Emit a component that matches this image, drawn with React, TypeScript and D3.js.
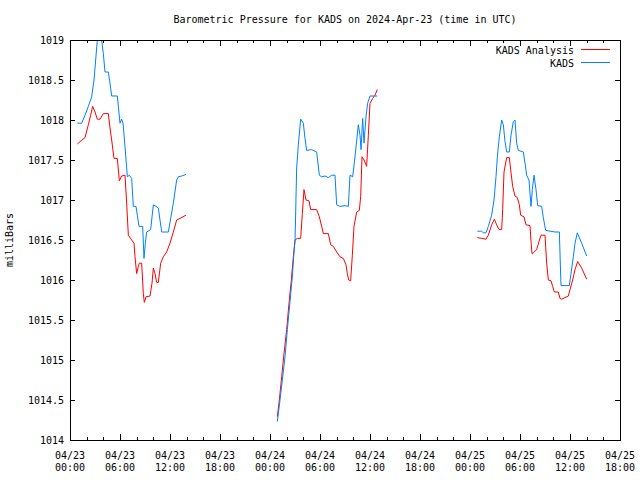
import React from "react";
import * as d3 from "d3";

// Hours since 2024-04-23 00:00 UTC; NaN splits gaps
const kadsHours = [
  0.88, 1.4, 1.8, 2.2, 2.6, 2.88, 3.08, 3.28, 3.5, 3.8, 4.0, 4.2, 4.6, 4.8, 5.0, 5.68, 6.0, 6.2, 6.36, 6.6, 6.88, 7.12, 7.4, 7.6, 7.92, 8.08, 8.28, 8.72, 8.88, 9.04, 9.2, 9.68, 10.0, 10.32, 10.6, 11.0, 11.8, 12.4, 12.8, 13.0, 13.4, 13.92,
  NaN,
  24.88, 25.2, 25.48, 25.8, 26.08, 26.4, 26.68, 26.88, 27.0, 27.06, 27.2, 27.4, 27.68, 28.0, 28.2, 28.4, 29.0, 29.6, 29.92, 30.2, 30.6, 31.0, 31.4, 31.8, 32.0, 32.4, 33.0, 33.4, 33.6, 33.92, 34.2, 34.6, 34.8, 34.92, 35.12, 35.28, 35.52, 35.72, 36.0, 36.88,
  NaN,
  48.88, 49.4, 49.6, 49.92, 50.2, 50.6, 50.88, 51.12, 51.28, 51.52, 51.8, 52.0, 52.2, 52.4, 52.72, 52.92, 53.2, 53.4, 53.6, 53.8, 54.4, 54.6, 54.8, 55.08, 55.32, 55.48, 55.68, 55.92, 56.12, 56.6, 56.8, 57.08, 58.2, 58.72, 58.92, 59.92, 60.4, 60.6, 60.88, 61.4, 62.0,
];
const kadsValues = [
  1017.96, 1017.96, 1018.06, 1018.17, 1018.29, 1018.5, 1018.75, 1019.0, 1019.3, 1019.0, 1018.83, 1018.6, 1018.6, 1018.46, 1018.3, 1018.3, 1017.96, 1018.01, 1017.96, 1017.67, 1017.29, 1017.31, 1017.27, 1016.92, 1016.92, 1016.81, 1016.67, 1016.67, 1016.27, 1016.46, 1016.6, 1016.63, 1016.94, 1016.92, 1016.9, 1016.6, 1016.6, 1016.96, 1017.25, 1017.29, 1017.3, 1017.32,
  NaN,
  1014.23, 1014.5, 1014.75, 1015.04, 1015.38, 1015.73, 1016.04, 1016.35, 1016.48, 1016.75, 1017.4, 1017.69, 1018.01, 1017.96, 1017.77, 1017.62, 1017.63, 1017.6, 1017.31, 1017.29, 1017.3, 1017.28, 1017.31, 1017.31, 1016.94, 1016.92, 1016.93, 1016.92, 1017.31, 1017.29, 1017.54, 1017.94, 1017.81, 1017.63, 1018.02, 1017.71, 1018.04, 1018.21, 1018.3, 1018.3,
  NaN,
  1016.61, 1016.61, 1016.59, 1016.59, 1016.67, 1016.81, 1017.0, 1017.29, 1017.54, 1017.79, 1018.0, 1017.94, 1017.73, 1017.6, 1017.6, 1017.81, 1017.98, 1018.0, 1017.71, 1017.62, 1017.6, 1017.46, 1017.31, 1017.25, 1016.92, 1017.13, 1017.31, 1017.13, 1016.93, 1016.92, 1016.78, 1016.62, 1016.6, 1016.6, 1015.93, 1015.93, 1016.29, 1016.46, 1016.59, 1016.46, 1016.3,
];

const analysisHours = [
  0.88, 1.2, 1.8, 2.2, 2.48, 2.72, 3.0, 3.28, 3.6, 4.0, 4.6, 4.8, 5.0, 5.28, 5.68, 5.92, 6.2, 6.6, 6.8, 7.0, 7.4, 7.68, 7.8, 8.0, 8.2, 8.32, 8.6, 8.8, 8.92, 9.12, 9.6, 9.84, 10.0, 10.2, 10.4, 10.6, 10.88, 11.2, 11.6, 12.0, 12.4, 12.8, 13.2, 13.92,
  NaN,
  24.88, 25.12, 25.4, 25.68, 26.0, 26.28, 26.56, 26.8, 27.0, 27.28, 27.68, 27.88, 28.08, 28.32, 28.68, 28.88, 29.6, 29.92, 30.2, 30.4, 31.0, 31.28, 31.6, 32.0, 32.4, 32.8, 33.12, 33.28, 33.44, 33.68, 33.88, 34.08, 34.4, 34.72, 34.88, 35.04, 35.28, 35.6, 35.8, 36.0, 36.32, 36.6, 36.88,
  NaN,
  48.88, 49.4, 49.92, 50.2, 50.6, 50.92, 51.2, 51.48, 51.8, 51.92, 52.08, 52.4, 52.72, 52.88, 53.12, 53.4, 53.68, 53.92, 54.08, 54.48, 54.72, 55.2, 55.32, 55.44, 55.6, 56.0, 56.28, 56.52, 57.0, 57.08, 57.2, 57.4, 57.72, 57.92, 58.12, 58.6, 58.8, 59.0, 59.4, 59.8, 60.0, 60.32, 60.6, 60.92, 61.4, 62.0,
];
const analysisValues = [
  1017.7, 1017.73, 1017.78, 1017.94, 1018.06, 1018.17, 1018.1, 1018.01, 1018.01, 1018.08, 1018.08, 1017.9, 1017.75, 1017.52, 1017.52, 1017.24, 1017.3, 1017.31, 1016.96, 1016.56, 1016.5, 1016.46, 1016.29, 1016.08, 1016.17, 1016.21, 1016.21, 1015.83, 1015.72, 1015.79, 1015.8, 1015.96, 1016.15, 1016.08, 1015.97, 1015.97, 1016.21, 1016.29, 1016.35, 1016.46, 1016.6, 1016.75, 1016.77, 1016.81,
  NaN,
  1014.29, 1014.5, 1014.79, 1015.08, 1015.38, 1015.71, 1016.0, 1016.29, 1016.5, 1016.52, 1016.52, 1016.83, 1017.13, 1017.0, 1016.99, 1016.88, 1016.88, 1016.79, 1016.67, 1016.58, 1016.58, 1016.44, 1016.42, 1016.35, 1016.29, 1016.27, 1016.19, 1016.08, 1016.0, 1015.99, 1016.31, 1016.67, 1016.85, 1016.87, 1017.04, 1017.54, 1017.5, 1017.42, 1017.81, 1018.21, 1018.27, 1018.31, 1018.38,
  NaN,
  1016.53, 1016.52, 1016.51, 1016.56, 1016.69, 1016.76, 1016.69, 1016.63, 1016.63, 1016.88, 1017.35, 1017.53, 1017.53, 1017.38, 1017.17, 1017.05, 1017.03, 1016.94, 1016.81, 1016.79, 1016.69, 1016.68, 1016.48, 1016.33, 1016.34, 1016.38, 1016.48, 1016.56, 1016.56, 1016.42, 1016.21, 1016.0, 1015.99, 1015.92, 1015.85, 1015.85, 1015.77, 1015.76, 1015.78, 1015.8, 1015.88, 1016.0, 1016.13, 1016.23, 1016.15, 1016.01,
];

const yTicks = [1014, 1014.5, 1015, 1015.5, 1016, 1016.5, 1017, 1017.5, 1018, 1018.5, 1019];
const yTickLabels = ["1014", "1014.5", "1015", "1015.5", "1016", "1016.5", "1017", "1017.5", "1018", "1018.5", "1019"];
const xTickHours = [0, 6, 12, 18, 24, 30, 36, 42, 48, 54, 60, 66];
const xTickDates = ["04/23", "04/23", "04/23", "04/23", "04/24", "04/24", "04/24", "04/24", "04/25", "04/25", "04/25", "04/25"];
const xTickTimes = ["00:00", "06:00", "12:00", "18:00", "00:00", "06:00", "12:00", "18:00", "00:00", "06:00", "12:00", "18:00"];
const seriesNames = ["KADS Analysis", "KADS"];
const seriesColors = ["#ff0000", "#0080ff"];

const W = 640, H = 480;
const L = 70, R = 620, T = 40, B = 440;
const FONT = "'DejaVu Sans Mono', monospace";

export default function App() {
  const x = d3.scaleLinear().domain([0, 66]).range([L, R]);
  const y = d3.scaleLinear().domain([1014, 1019]).range([B, T]);
  const line = d3
    .line<[number, number]>()
    .defined((d) => !isNaN(d[0]) && !isNaN(d[1]))
    .x((d) => x(d[0]))
    .y((d) => y(d[1]));
  const kads: [number, number][] = kadsHours.map((h, i) => [h, kadsValues[i]]);
  const anal: [number, number][] = analysisHours.map((h, i) => [h, analysisValues[i]]);
  const minor = d3.range(0, 67, 2);

  return (
    <svg width={W} height={H} style={{ display: "block", position: "absolute", left: 0, top: 0, background: "#fff" }}>
      <defs>
        <clipPath id="plotclip">
          <rect x={L} y={T} width={R - L} height={B - T} />
        </clipPath>
      </defs>
      <rect x={0} y={0} width={W} height={H} fill="#fff" />
      <text x={345} y={23} textAnchor="middle" fontFamily={FONT} fontSize={10} fill="#000">
        Barometric Pressure for KADS on 2024-Apr-23 (time in UTC)
      </text>
      {/* y ticks */}
      {yTicks.map((v, i) => (
        <g key={"y" + i}>
          <line x1={L} x2={L + 5} y1={Math.round(y(v)) + 0.5} y2={Math.round(y(v)) + 0.5} stroke="#000" />
          <line x1={R - 5} x2={R} y1={Math.round(y(v)) + 0.5} y2={Math.round(y(v)) + 0.5} stroke="#000" />
          <text x={64} y={y(v) + 3.5} textAnchor="end" fontFamily={FONT} fontSize={10} fill="#000">
            {yTickLabels[i]}
          </text>
        </g>
      ))}
      {/* x ticks */}
      {minor.map((h) => {
        const major = h % 6 === 0;
        const len = major ? 6 : 3;
        const xp = Math.round(x(h)) + 0.5;
        return (
          <g key={"m" + h}>
            <line x1={xp} x2={xp} y1={B} y2={B - len} stroke="#000" />
            <line x1={xp} x2={xp} y1={T} y2={T + len} stroke="#000" />
          </g>
        );
      })}
      {xTickHours.map((h, i) => (
        <g key={"x" + i}>
          <text x={x(h)} y={459} textAnchor="middle" fontFamily={FONT} fontSize={10} fill="#000">
            {xTickDates[i]}
          </text>
          <text x={x(h)} y={471} textAnchor="middle" fontFamily={FONT} fontSize={10} fill="#000">
            {xTickTimes[i]}
          </text>
        </g>
      ))}
      <text
        transform={`translate(13,240) rotate(-90)`}
        textAnchor="middle"
        fontFamily={FONT}
        fontSize={10}
        fill="#000"
      >
        milliBars
      </text>
      {/* data */}
      <g clipPath="url(#plotclip)" fill="none" strokeWidth={1}>
        <path d={line(anal) || ""} stroke={seriesColors[0]} />
        <path d={line(kads) || ""} stroke={seriesColors[1]} />
      </g>
      {/* legend */}
      {seriesNames.map((n, i) => (
        <g key={n}>
          <text x={574} y={53.5 + i * 13} textAnchor="end" fontFamily={FONT} fontSize={10} fill="#000">
            {n}
          </text>
          <line x1={581} x2={610} y1={49.5 + i * 13} y2={49.5 + i * 13} stroke={seriesColors[i]} />
        </g>
      ))}
      <rect x={L + 0.5} y={T + 0.5} width={R - L} height={B - T} fill="none" stroke="#000" />
    </svg>
  );
}
